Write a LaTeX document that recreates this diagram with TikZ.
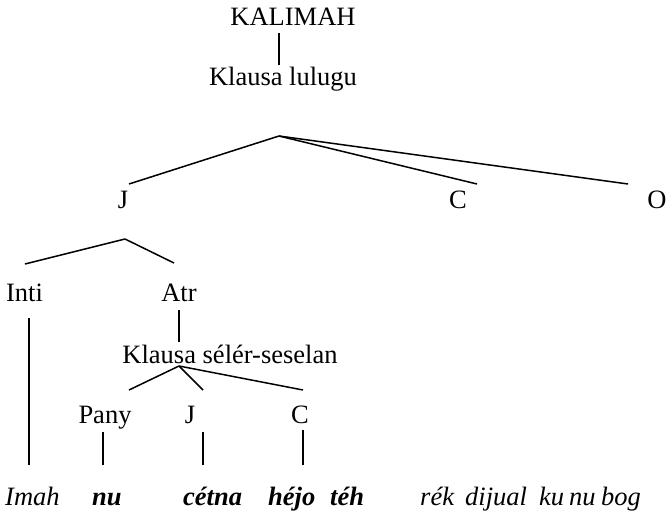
\documentclass[tikz,border=0pt]{standalone}
\usepackage{fontspec}
\setmainfont{Liberation Serif}
\begin{document}
\begin{tikzpicture}[x=1pt,y=-1pt,
  lbl/.style={anchor=base,inner sep=0pt,font=\fontsize{26.5}{30}\selectfont},
  wrd/.style={anchor=base west,inner sep=0pt,font=\fontsize{26.5}{30}\selectfont\itshape},
  bwrd/.style={wrd,font=\fontsize{26.5}{30}\selectfont\bfseries\itshape},
  branch/.style={line width=1.5pt}]
\useasboundingbox (0,0) rectangle (669,520);

% sentence level
\node[lbl] (kal) at (293,25) {KALIMAH};
\node[lbl] (klu) at (283,85) {Klausa lulugu};
\coordinate (kalB) at (279,33);
\coordinate (kluT) at (279,65);
\draw[branch] (kalB) -- (kluT);

% main clause: J C O
\coordinate (top) at (279,136);
\node[lbl] (J1) at (123,208) {J};
\node[lbl] (C1) at (458,208) {C};
\node[lbl] (O1) at (657,208) {O};
\coordinate (J1t) at (129,184);
\coordinate (C1t) at (477,184);
\coordinate (O1t) at (628,184);
\draw[branch] (top) -- (J1t);
\draw[branch] (top) -- (C1t);
\draw[branch] (top) -- (O1t);

% subject: Inti + Atr
\coordinate (J1b) at (125,239);
\node[lbl] (inti) at (24.5,301) {Inti};
\node[lbl] (atr) at (179,301) {Atr};
\coordinate (intiT) at (25,264);
\coordinate (atrT) at (174,263);
\draw[branch] (J1b) -- (intiT);
\draw[branch] (J1b) -- (atrT);

% relative clause
\node[lbl] (ksel) at (230,363) {Klausa sélér-seselan};
\coordinate (atrB) at (179,310);
\coordinate (kselT) at (179,342);
\draw[branch] (atrB) -- (kselT);
\coordinate (kselB) at (179,366);
\node[lbl] (pany) at (105,423) {Pany};
\node[lbl] (J2) at (190,423) {J};
\node[lbl] (C2) at (300,423) {C};
\coordinate (panyT) at (129,390);
\coordinate (J2t) at (203,390);
\coordinate (C2t) at (303,390);
\draw[branch] (kselB) -- (panyT);
\draw[branch] (kselB) -- (J2t);
\draw[branch] (kselB) -- (C2t);

% drop lines to the words
\coordinate (intiB) at (29,318);
\coordinate (intiE) at (29,465);
\coordinate (panyB) at (103,432);
\coordinate (panyE) at (103,465);
\coordinate (J2b) at (203,432);
\coordinate (J2e) at (203,465);
\coordinate (C2b) at (303,430);
\coordinate (C2e) at (303,465);
\draw[branch] (intiB) -- (intiE);
\draw[branch] (panyB) -- (panyE);
\draw[branch] (J2b) -- (J2e);
\draw[branch] (C2b) -- (C2e);

% the sentence
\node[wrd] (w1) at (5,505) {Imah};
\node[bwrd] (w2) at (92,505) {nu};
\node[bwrd] (w3) at (183,505) {cétna};
\node[bwrd] (w4) at (268,505) {héjo};
\node[bwrd] (w5) at (330,505) {téh};
\node[wrd] (w6) at (420,505) {rék};
\node[wrd] (w7) at (465,505) {dijual};
\node[wrd] (w8) at (539,505) {ku};
\node[wrd] (w9) at (569,505) {nu};
\node[wrd] (w10) at (601,505) {bog};
\end{tikzpicture}
\end{document}
